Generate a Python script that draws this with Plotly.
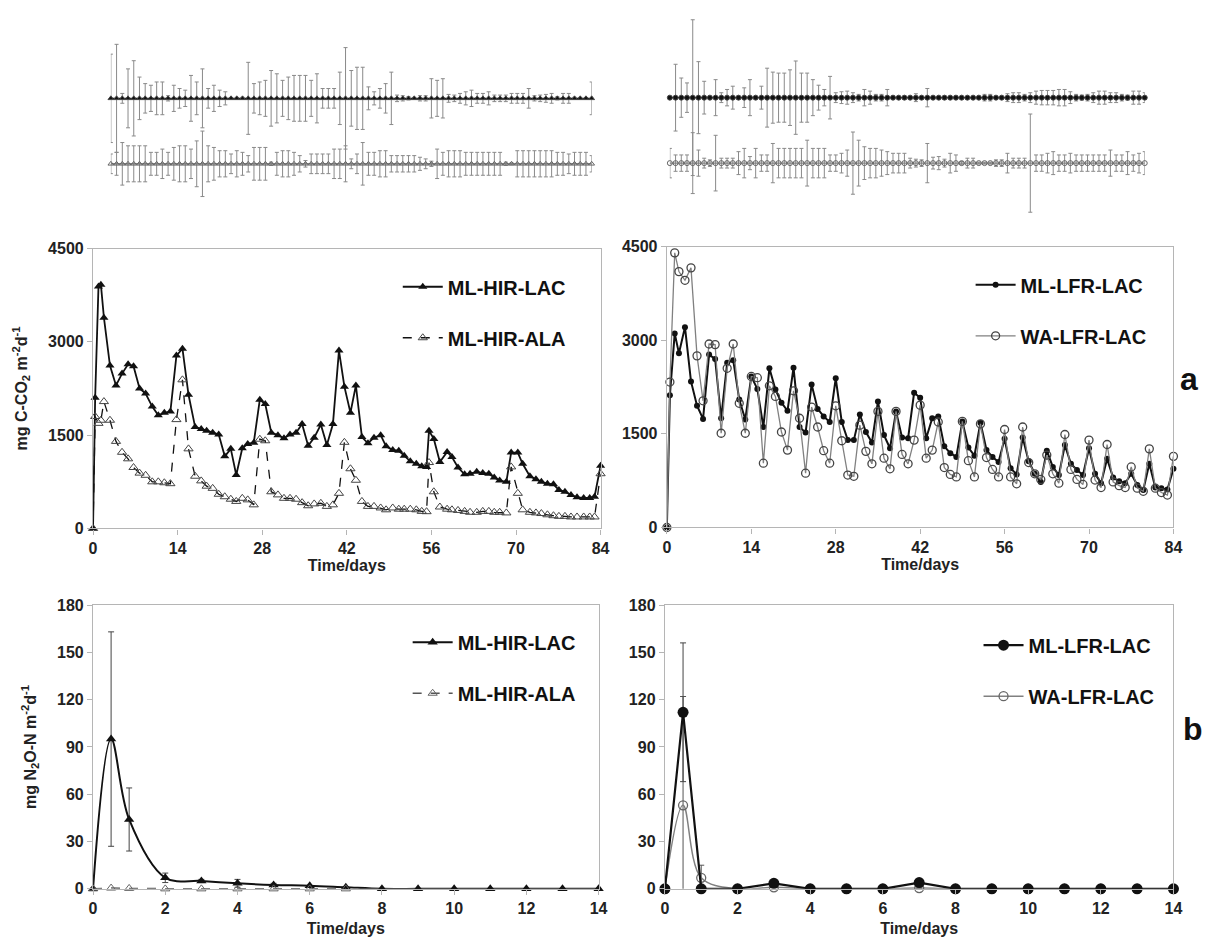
import plotly.graph_objects as go

W, H = 1223, 945
FONT = "Liberation Sans, Arial, sans-serif"

# ---------------- data ----------------
# Panel a (left): CO2 flux, ML-HIR soils
days_hir = [0, 0.35, 0.9, 1.3, 1.8, 2.8, 3.8, 4.8, 5.8, 6.7, 7.7, 8.7, 9.8, 10.8, 11.8, 12.8,
            13.8, 14.8, 15.8, 16.9, 17.9, 18.8, 19.8, 20.8, 21.8, 22.8, 23.7, 24.7, 25.6, 26.6,
            27.6, 28.5, 29.5, 30.6, 31.6, 32.6, 33.6, 34.6, 35.6, 36.6, 37.7, 38.7, 39.7, 40.7,
            41.6, 42.6, 43.5, 44.5, 45.5, 46.5, 47.6, 48.5, 49.6, 50.6, 51.5, 52.5, 53.5, 54.4,
            55.2, 55.6, 56.4, 57.4, 58.6, 59.4, 60.4, 61.5, 62.4, 63.5, 64.5, 65.5, 66.4, 67.3,
            68.4, 69.2, 70.3, 71.1, 72.3, 73.3, 74.2, 75.2, 76.2, 77.1, 78.1, 79.1, 80.1, 81.2,
            82.2, 83.0, 84.0]
co2_ml_hir_lac = [0, 2100, 3890, 3920, 3390, 2620, 2300, 2490, 2640, 2610, 2250, 2170, 1960, 1820,
                  1860, 1880, 2780, 2890, 2150, 1630, 1600, 1570, 1540, 1510, 1160, 1280, 860, 1290,
                  1360, 1380, 2070, 2000, 1540, 1500, 1450, 1510, 1540, 1680, 1330, 1460, 1670, 1340,
                  1680, 2860, 2280, 1860, 2300, 1470, 1370, 1460, 1500, 1320, 1260, 1250, 1170, 1080,
                  1040, 1000, 990, 1570, 1440, 1070, 1230, 1150, 980, 870, 880, 910, 890, 880, 820,
                  770, 750, 1220, 1220, 1040, 840, 790, 750, 720, 710, 620, 590, 540, 500, 490, 490,
                  510, 1010]
co2_ml_hir_ala = [0, 1800, 1690, 1740, 2040, 1740, 1400, 1225, 1120, 980, 890, 855, 750, 750, 735,
                  720, 1750, 2390, 1280, 840, 765, 680, 645, 550, 510, 470, 435, 485, 460, 380, 1435,
                  1410, 590, 540, 485, 485, 470, 415, 365, 395, 405, 355, 380, 565, 1385, 960, 775,
                  435, 355, 355, 330, 300, 330, 310, 310, 310, 300, 275, 270, 1060, 590, 345, 310,
                  300, 290, 275, 260, 260, 275, 275, 260, 260, 250, 990, 565, 300, 260, 250, 240,
                  220, 205, 195, 195, 185, 185, 185, 185, 185, 880]

# Panel a (right): CO2 flux, LFR soils
days_lfr = [0, 0.5, 1.3] + list(range(2, 85))
co2_ml_lfr_lac = [0, 2120, 3110, 2790, 3210, 2340, 1950, 1740, 2770, 2700, 1750, 2640, 2680, 2050,
                  1730, 2420, 2220, 1610, 2550, 2210, 2000, 1870, 2560, 1610, 1520, 2290, 1900, 1780,
                  1690, 2390, 1690, 1400, 1400, 1810, 1530, 1360, 2020, 1480, 1270, 1860, 1440, 1430,
                  2160, 2080, 1430, 1750, 1780, 1300, 1190, 1130, 1700, 1280, 1150, 1680, 1240, 1130,
                  1050, 1420, 950, 850, 1440, 1060, 860, 730, 1230, 970, 840, 1320, 1020, 920, 840,
                  1270, 860, 710, 1100, 800, 740, 710, 860, 680, 600, 1020, 640, 630, 610, 940]
co2_wa_lfr_lac = [0, 2330, 4400, 4100, 3960, 4160, 2750, 2030, 2940, 2930, 1510, 2550, 2940, 1990,
                  1510, 2420, 2400, 1030, 2270, 2100, 1530, 1240, 2190, 1750, 870, 1930, 1610, 1230,
                  1030, 1950, 1390, 840, 820, 1640, 1220, 1020, 1860, 1110, 940, 1860, 1170, 1020,
                  1400, 1960, 1110, 1240, 1690, 960, 850, 810, 1700, 1070, 810, 1660, 1120, 930, 810,
                  1570, 810, 700, 1610, 1040, 860, 770, 1160, 860, 710, 1490, 930, 770, 690, 1400,
                  760, 640, 1330, 730, 670, 640, 970, 630, 580, 1260, 630, 560, 520, 1140]

# Error-bar strips above panel a (standard deviations, drawn apart from the curves)
sd_ml_hir_lac = [135, 165, 15, 90, 115, 65, 45, 40, 50, 50, 8, 40, 30, 25, 70, 50, 90, 30, 40, 25,
                 20, 3, 3, 3, 110, 45, 50, 55, 85, 75, 55, 65, 70, 70, 70, 55, 75, 30, 30, 30, 80,
                 155, 85, 95, 95, 35, 20, 30, 45, 80, 10, 8, 5, 3, 8, 8, 60, 55, 60, 12, 10, 15, 20,
                 25, 15, 15, 20, 10, 10, 10, 15, 15, 15, 30, 8, 10, 12, 15, 5, 15, 15, 3, 3, 3, 50]
sd_ml_hir_ala = [30, 35, 65, 55, 55, 55, 55, 35, 35, 45, 35, 50, 55, 55, 45, 70, 100, 55, 50, 40,
                 40, 30, 40, 35, 25, 50, 50, 50, 5, 35, 40, 40, 35, 25, 10, 30, 30, 30, 30, 45, 45,
                 55, 15, 30, 65, 35, 35, 40, 40, 25, 25, 25, 25, 25, 20, 15, 8, 45, 35, 40, 40, 40,
                 35, 35, 35, 35, 35, 35, 35, 5, 3, 40, 40, 40, 40, 40, 40, 40, 35, 35, 30, 35, 35,
                 35, 25]
sd_ml_lfr_lac = [0, 102, 60, 45, 238, 110, 50, 0, 55, 15, 25, 35, 5, 30, 55, 0, 35, 90, 78, 75, 75,
                 85, 112, 75, 75, 55, 38, 25, 65, 15, 18, 20, 15, 10, 25, 20, 10, 10, 25, 5, 3, 5,
                 3, 12, 3, 28, 3, 3, 5, 3, 5, 3, 3, 3, 3, 10, 10, 3, 3, 12, 15, 15, 10, 15, 20, 22,
                 22, 22, 25, 25, 18, 10, 8, 10, 15, 20, 20, 15, 15, 10, 8, 20, 20, 15]
sd_wa_lfr_lac = [45, 25, 25, 25, 93, 40, 15, 10, 85, 15, 15, 15, 35, 45, 20, 45, 25, 25, 60, 45, 45,
                 45, 45, 45, 70, 45, 45, 45, 25, 25, 30, 40, 95, 70, 50, 45, 45, 40, 35, 30, 30, 30,
                 15, 12, 10, 60, 18, 20, 12, 30, 25, 5, 15, 15, 3, 3, 3, 10, 10, 30, 15, 15, 15, 150,
                 25, 25, 30, 35, 25, 25, 30, 25, 25, 25, 25, 25, 25, 40, 25, 25, 35, 25, 30, 35]
STRIP_UPPER_LEVEL = 0
STRIP_LOWER_LEVEL = -200

# Panel b: N2O flux
days_n2o = [0, 0.5, 1, 2, 3, 4, 5, 6, 7, 8, 9, 10, 11, 12, 13, 14]
n2o_ml_hir_lac = [0, 95, 44, 7, 5, 3.5, 2.5, 2, 1, 0, 0, 0, 0, 0, 0, 0]
n2o_ml_hir_lac_sd = [None, 68, 20, 3, 1, 2.5, 1, None, None, None, None, None, None, None, None, None]
days_n2o_ala = [0, 0.5, 1, 2, 3, 4, 5, 6, 7]
n2o_ml_hir_ala = [0, 0.5, 0.3, 0, 0, 0, 0, 0, 0]
n2o_ml_lfr_lac = [0, 112, 0, 0, 3.5, 0, 0, 0, 4, 0, 0, 0, 0, 0, 0, 0]
n2o_ml_lfr_lac_sd = [None, 44] + [None] * 14
n2o_wa_lfr_lac = [0, 53, 7, 0, 1, 0, 0, 0, 0.5, 0, 0, 0, 0, 0, 0, 0]
n2o_wa_lfr_lac_sd = [None, 69, 8] + [None] * 13

co2_ticks = [0, 14, 28, 42, 56, 70, 84]
n2o_ticks = [0, 2, 4, 6, 8, 10, 12, 14]

# ---------------- layout helpers ----------------
def dx(p0, p1):
    return [p0 / W, p1 / W]

def dy(top, bottom):
    return [1 - bottom / H, 1 - top / H]

BLACK = "#111111"
GREY = "#808080"
ERRC = "#8a8a8a"

fig = go.Figure()

def add(tr):
    tr.cliponaxis = False
    fig.add_trace(tr)

# ---- panel a left
add(go.Scatter(x=days_hir, y=co2_ml_hir_lac, xaxis="x", yaxis="y", mode="lines+markers",
               name="<b>ML-HIR-LAC</b>", legend="legend", legendgroup="a1", legendrank=1,
               line=dict(color=BLACK, width=1.8),
               marker=dict(symbol="triangle-up", size=8, color=BLACK)))
add(go.Scatter(x=days_hir, y=co2_ml_hir_ala, xaxis="x", yaxis="y", mode="lines+markers",
               name="<b>ML-HIR-ALA</b>", legend="legend", legendgroup="a2", legendrank=2,
               line=dict(color=BLACK, width=1.3, dash="dash"),
               marker=dict(symbol="triangle-up-open", size=8, color="#444444", line=dict(width=1))))
# ---- panel a right
add(go.Scatter(x=days_lfr, y=co2_ml_lfr_lac, xaxis="x2", yaxis="y2", mode="lines+markers",
               name="<b>ML-LFR-LAC</b>", legend="legend2", legendgroup="b1", legendrank=1,
               line=dict(color=BLACK, width=2),
               marker=dict(symbol="circle", size=6, color=BLACK)))
add(go.Scatter(x=days_lfr, y=co2_wa_lfr_lac, xaxis="x2", yaxis="y2", mode="lines+markers",
               name="<b>WA-LFR-LAC</b>", legend="legend2", legendgroup="b2", legendrank=2,
               line=dict(color=GREY, width=1.3),
               marker=dict(symbol="circle-open", size=8, color="#444444", line=dict(width=1.3))))
# ---- panel b left
add(go.Scatter(x=days_n2o, y=n2o_ml_hir_lac, xaxis="x3", yaxis="y3", mode="lines+markers",
               name="<b>ML-HIR-LAC</b>", legend="legend3", legendgroup="c1", legendrank=1,
               line=dict(color=BLACK, width=2, shape="spline", smoothing=1),
               marker=dict(symbol="triangle-up", size=9, color=BLACK),
               error_y=dict(type="data", array=n2o_ml_hir_lac_sd, visible=True, color="#444",
                            thickness=1, width=3)))
add(go.Scatter(x=days_n2o_ala, y=n2o_ml_hir_ala, xaxis="x3", yaxis="y3", mode="lines+markers",
               name="<b>ML-HIR-ALA</b>", legend="legend3", legendgroup="c2", legendrank=2,
               line=dict(color="#555555", width=1.5, dash="dash"),
               marker=dict(symbol="triangle-up-open", size=8, color="#666666", line=dict(width=1))))
# ---- panel b right
add(go.Scatter(x=days_n2o, y=n2o_wa_lfr_lac, xaxis="x4", yaxis="y4", mode="lines+markers",
               name="<b>WA-LFR-LAC</b>", legend="legend4", legendgroup="d2", legendrank=2,
               line=dict(color=GREY, width=1.5, shape="spline", smoothing=1),
               marker=dict(symbol="circle-open", size=9, color="#666666", line=dict(width=1.3)),
               error_y=dict(type="data", array=n2o_wa_lfr_lac_sd, visible=True, color="#555",
                            thickness=1, width=3)))
add(go.Scatter(x=days_n2o, y=n2o_ml_lfr_lac, xaxis="x4", yaxis="y4", mode="lines+markers",
               name="<b>ML-LFR-LAC</b>", legend="legend4", legendgroup="d1", legendrank=1,
               line=dict(color=BLACK, width=2.2),
               marker=dict(symbol="circle", size=11, color=BLACK),
               error_y=dict(type="data", array=n2o_ml_lfr_lac_sd, visible=True, color="#444",
                            thickness=1, width=3)))

# ---- error-bar strips
def strip(sd, level, xa, ya, filled, symbol):
    idx = list(range(len(sd)))
    add(go.Scatter(x=idx, y=[level] * len(sd), xaxis=xa, yaxis=ya, mode="lines+markers",
                   showlegend=False, hoverinfo="skip",
                   line=dict(color=BLACK if filled else GREY, width=1.4),
                   marker=dict(symbol=symbol, size=5,
                               color=BLACK if filled else "#666666", line=dict(width=1)),
                   error_y=dict(type="data", array=sd, visible=True, color=ERRC,
                                thickness=1, width=2)))

strip(sd_ml_hir_lac, STRIP_UPPER_LEVEL, "x5", "y5", True, "triangle-up")
strip(sd_ml_hir_ala, STRIP_LOWER_LEVEL, "x5", "y5", False, "triangle-up-open")
strip(sd_ml_lfr_lac, STRIP_UPPER_LEVEL, "x6", "y6", True, "circle")
strip(sd_wa_lfr_lac, STRIP_LOWER_LEVEL, "x6", "y6", False, "circle-open")

# ---------------- axes ----------------
tickfont = dict(family=FONT, size=16, color="#222222", weight="bold")
titlefont = dict(family=FONT, size=16, color="#222222", weight="bold")
base = dict(showline=True, mirror=True, linecolor="#b5b5b5", linewidth=1.3, ticks="outside",
            ticklen=5, tickcolor="#b5b5b5", showgrid=False, zeroline=False, tickfont=tickfont)

co2_y = dict(base, range=[0, 4500], tickvals=[0, 1500, 3000, 4500])
n2o_y = dict(base, range=[0, 180], tickvals=[0, 30, 60, 90, 120, 150, 180])
co2_x = dict(base, range=[0, 84], tickvals=co2_ticks,
             title=dict(text="Time/days", font=titlefont, standoff=0))
n2o_x = dict(base, range=[0, 14], tickvals=n2o_ticks,
             title=dict(text="Time/days", font=titlefont, standoff=6))

fig.update_layout(
    width=W, height=H, margin=dict(l=0, r=0, t=0, b=0),
    paper_bgcolor="white", plot_bgcolor="white",
    font=dict(family=FONT, color="#222222"),
    xaxis=dict(co2_x, domain=dx(90, 603), anchor="y"),
    yaxis=dict(co2_y, domain=dy(245, 530), anchor="x",
               title=dict(text="mg C-CO<sub>2</sub> m<sup>-2</sup>d<sup>-1</sup>", font=titlefont,
                          standoff=16)),
    xaxis2=dict(co2_x, domain=dx(670, 1182), anchor="y2"),
    yaxis2=dict(co2_y, domain=dy(243, 529), anchor="x2"),
    xaxis3=dict(n2o_x, domain=dx(90, 601), anchor="y3"),
    yaxis3=dict(n2o_y, domain=dy(608, 897), anchor="x3",
                title=dict(text="mg N<sub>2</sub>O-N m<sup>-2</sup>d<sup>-1</sup>", font=titlefont,
                           standoff=16)),
    xaxis4=dict(n2o_x, domain=dx(668, 1182), anchor="y4"),
    yaxis4=dict(n2o_y, domain=dy(608, 897), anchor="x4"),
    xaxis5=dict(visible=False, domain=dx(108, 594), range=[0, len(sd_ml_hir_lac) - 1], anchor="y5"),
    yaxis5=dict(visible=False, domain=dy(7, 217), range=[(95 - 220) * 3, (95 - 10) * 3], anchor="x5"),
    xaxis6=dict(visible=False, domain=dx(673, 1153), range=[0, len(sd_ml_lfr_lac) - 1], anchor="y6"),
    yaxis6=dict(visible=False, domain=dy(7, 217), range=[(94.3 - 220) * 3, (94.3 - 10) * 3], anchor="x6"),
    showlegend=True,
)

legfont = dict(family=FONT, size=20, color="#111111")
def leg(xp, ytop):
    return dict(x=xp / W, y=1 - ytop / H, xanchor="left", yanchor="top", font=legfont,
                bgcolor="rgba(0,0,0,0)", tracegroupgap=22, itemwidth=40, traceorder="grouped")

fig.update_layout(
    legend=leg(398, 264),
    legend2=leg(977, 262),
    legend3=leg(408, 626),
    legend4=leg(985, 629),
)

fig.add_annotation(text="<b>a</b>", x=1209 / W, y=1 - 378 / H, xref="paper", yref="paper",
                   showarrow=False, font=dict(family=FONT, size=32, color="#111111"))
fig.add_annotation(text="<b>b</b>", x=1214 / W, y=1 - 755 / H, xref="paper", yref="paper",
                   showarrow=False, font=dict(family=FONT, size=32, color="#111111"))

fig.write_html("out.html", config={"displayModeBar": False},
               post_script="document.body.style.margin='0px';")
